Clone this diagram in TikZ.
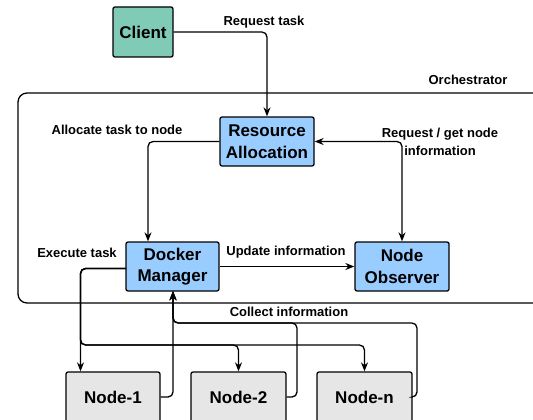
\documentclass[tikz,border=0pt]{standalone}
\usepackage{fontspec}
\setmainfont{Liberation Sans}
\usetikzlibrary{arrows.meta}
\definecolor{teal1}{HTML}{80CBB5}
\definecolor{blue1}{HTML}{99CCFF}
\definecolor{gray1}{HTML}{E6E6E6}
\tikzset{
  box/.style={draw=black, line width=1.3pt, rounded corners=2pt, font=\fontsize{17}{21.5}\selectfont\bfseries, align=center, inner sep=0pt},
  lbl/.style={font=\fontsize{13}{18}\selectfont\bfseries, align=center, inner sep=0pt},
  conn/.style={line width=1.3pt, rounded corners=5pt, -{Stealth[length=9pt,width=7pt]}},
}
\begin{document}
\begin{tikzpicture}[x=1pt,y=-1pt]
\useasboundingbox (0,0) rectangle (533,420);
\clip (0,0) rectangle (533,420);
% orchestrator
\draw[line width=1.3pt, rounded corners=9pt] (18,93) rectangle (545,303);
\node[lbl] (orchl) at (468,80) {Orchestrator};
% nodes
\node[box, fill=teal1, minimum width=60pt, minimum height=50pt] (client) at (143,32) {Client};
\node[box, fill=blue1, minimum width=94pt, minimum height=49pt] (ra) at (267,141.5) {Resource\\Allocation};
\node[box, fill=blue1, minimum width=93pt, minimum height=49pt] (dm) at (172.5,266.5) {Docker\\Manager};
\node[box, fill=blue1, minimum width=94pt, minimum height=49pt] (no) at (402,266.5) {Node\\Observer};
\node[box, fill=gray1, minimum width=94pt, minimum height=50pt] (n1) at (113,397) {Node-1};
\node[box, fill=gray1, minimum width=95pt, minimum height=50pt] (n2) at (238.5,397) {Node-2};
\node[box, fill=gray1, minimum width=95pt, minimum height=50pt] (nn) at (364.5,397) {Node-n};
% connectors
\draw[conn] (client.east) -- (267,32) -- (ra.north);
\node[lbl] (l1) at (264,22) {Request task};
\draw[conn] (ra.west) -- (148,141.5) -- (148,242) -- (dm.north -| 148,0);
\node[lbl] (l2) at (117,130) {Allocate task to node};
\draw[conn, {Stealth[length=9pt,width=7pt]}-{Stealth[length=9pt,width=7pt]}] (ra.east) -- (402,141.5) -- (no.north);
\node[lbl] (l3) at (440,141.5) {Request / get node\\information};
\draw[conn] (dm.east) -- (no.west);
\node[lbl] (l4) at (286,252) {Update information};
\node[lbl] (l5) at (77,253) {Execute task};
\coordinate (ex) at (126,268.5);
\draw[conn] (ex) -- (80.5,268.5) -- (80.5,372) -- (n1.north -| 80.5,0);
\draw[conn] (ex) -- (80.5,268.5) -- (80.5,345) -- (238.5,345) -- (n2.north);
\draw[conn] (ex) -- (80.5,268.5) -- (80.5,345) -- (364.5,345) -- (nn.north);
\node[lbl] (l6) at (289,312) {Collect information};
\draw[conn] (n1.east) -- (173,397) -- (173,291) -- (dm.south -| 173,0);
\draw[conn] (n2.east) -- (297,397) -- (297,323) -- (173,323) -- (173,291);
\draw[conn] (nn.east) -- (417,397) -- (417,323) -- (173,323) -- (173,291);
\end{tikzpicture}
\end{document}
